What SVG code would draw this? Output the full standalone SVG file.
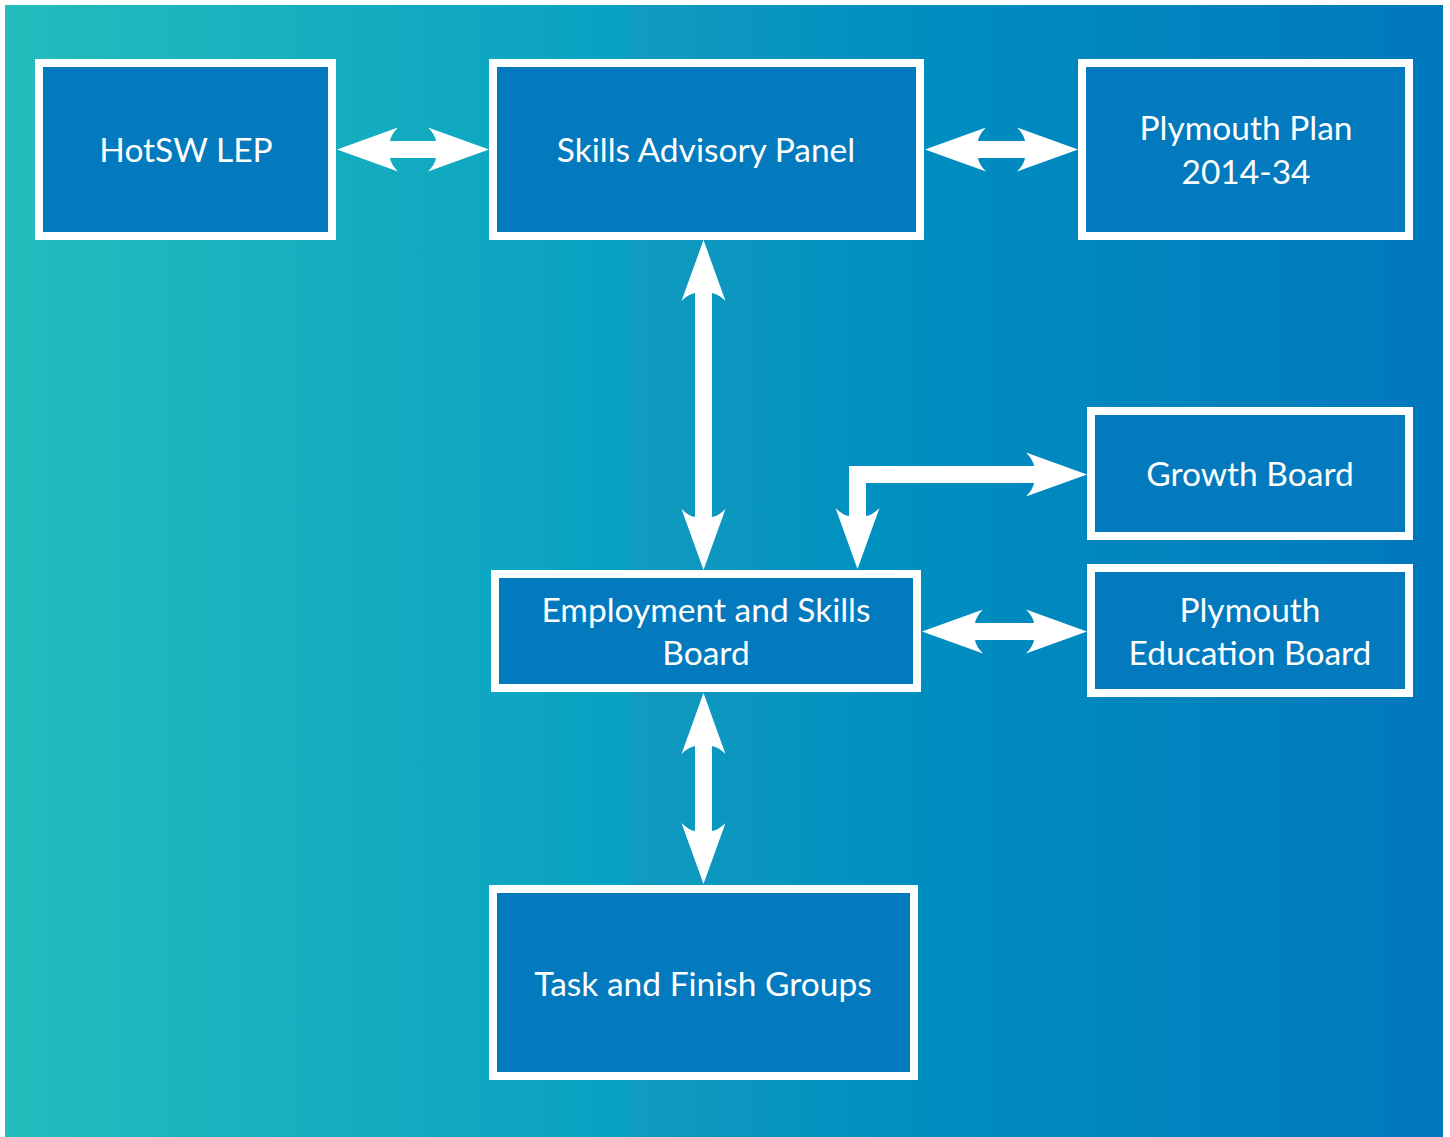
<svg xmlns="http://www.w3.org/2000/svg" width="1450" height="1137" viewBox="0 0 1450 1137">
<defs>
<linearGradient id="bgL" x1="0" y1="0" x2="1" y2="0">
<stop offset="0" stop-color="#23bdbd"/>
<stop offset="1" stop-color="#08a0c2"/>
</linearGradient>
<linearGradient id="bgR" x1="0" y1="0" x2="1" y2="0">
<stop offset="0" stop-color="#129bbf"/>
<stop offset="0.3" stop-color="#0090c0"/>
<stop offset="1" stop-color="#0078bc"/>
</linearGradient>
<marker id="head" markerUnits="userSpaceOnUse" viewBox="-12 -24 66 48" markerWidth="66" markerHeight="48" refX="0" refY="0" orient="auto-start-reverse">
<path d="M51,0 L-10,-22 Q-3,-15 -2,-8.5 L-2,8.5 Q-3,15 -10,22 Z" fill="#ffffff"/>
</marker>
</defs>
<style>
.box{fill:#027abd;stroke:#ffffff;stroke-width:8}
.lbl{font-family:"Lato","Open Sans","Liberation Sans",sans-serif;font-size:33.5px;fill:#ffffff;text-anchor:middle}
.conn{fill:none;stroke:#ffffff;stroke-width:17;stroke-linejoin:miter;marker-start:url(#head);marker-end:url(#head)}
</style>
<rect x="0" y="0" width="1450" height="1137" fill="#ffffff"/>
<rect x="5" y="5" width="627" height="1132" fill="url(#bgL)"/>
<rect x="632" y="5" width="811" height="1132" fill="url(#bgR)"/>
<g id="connectors">
<path class="conn" d="M388,149.5 L438,149.5"/>
<path class="conn" d="M976,149.5 L1027,149.5"/>
<path class="conn" d="M703.5,291 L703.5,519"/>
<path class="conn" d="M857.5,518 L857.5,474.5 L1036,474.5"/>
<path class="conn" d="M973,631.5 L1036,631.5"/>
<path class="conn" d="M703.5,744 L703.5,833"/>
</g>
<g id="hotsw">
<rect class="box" x="39" y="63" width="293" height="173"/>
<text class="lbl" x="186" y="162">HotSW LEP</text>
</g>
<g id="sap">
<rect class="box" x="493" y="63" width="427" height="173"/>
<text class="lbl" x="706" y="162">Skills Advisory Panel</text>
</g>
<g id="plymouth-plan">
<rect class="box" x="1082" y="63" width="327" height="173"/>
<text class="lbl" x="1246" y="140">Plymouth Plan</text>
<text class="lbl" x="1246" y="184">2014-34</text>
</g>
<g id="growth-board">
<rect class="box" x="1091" y="411" width="318" height="125"/>
<text class="lbl" x="1250" y="486">Growth Board</text>
</g>
<g id="esb">
<rect class="box" x="495" y="574" width="422" height="114"/>
<text class="lbl" x="706" y="622">Employment and Skills</text>
<text class="lbl" x="706" y="665">Board</text>
</g>
<g id="peb">
<rect class="box" x="1091" y="568" width="318" height="125"/>
<text class="lbl" x="1250" y="622">Plymouth</text>
<text class="lbl" x="1250" y="665">Education Board</text>
</g>
<g id="tfg">
<rect class="box" x="493" y="889" width="421" height="187"/>
<text class="lbl" x="703" y="996">Task and Finish Groups</text>
</g>
</svg>
